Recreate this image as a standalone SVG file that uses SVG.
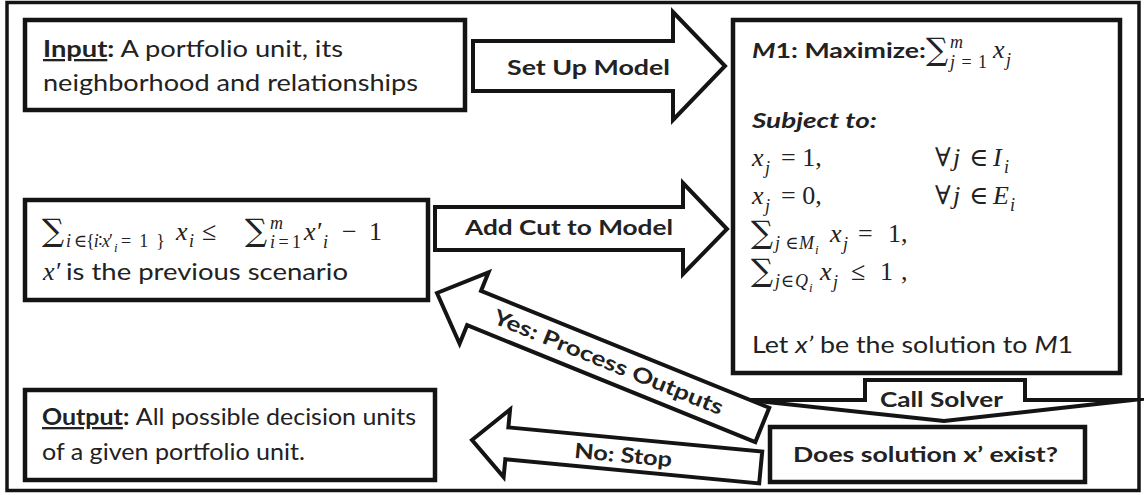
<svg xmlns="http://www.w3.org/2000/svg" width="1144" height="495" viewBox="0 0 1144 495">
<style>
.box{fill:#fff;stroke:#141414;stroke-width:4.5}
.arr{fill:#fff;stroke:#141414;stroke-width:4;stroke-linejoin:miter;stroke-miterlimit:20}
.t{font-family:Lato,"Open Sans","Liberation Sans",sans-serif;font-size:23px;fill:#222}
.b{font-family:Lato,"Open Sans","Liberation Sans",sans-serif;font-size:21px;font-weight:bold;fill:#222}
.m{font-family:"Liberation Serif","DejaVu Serif",serif;font-size:26px;fill:#222}
.mi{font-style:italic}
.s{font-size:18px}
.ss{font-size:13px}
.sum{font-family:"DejaVu Serif",serif;font-size:31px}
.u{text-decoration:underline}
</style>
<rect width="1144" height="495" fill="#fff"/>
<rect x="7" y="2.5" width="1132" height="488" fill="none" stroke="#141414" stroke-width="3.5"/>

<!-- arrows between the steps -->
<g id="connectors">
  <g id="set-up-model">
    <polygon class="arr" points="473,41 673,41 673,12 725,66 673,120 673,91 473,91"/>
    <text class="b" x="507" y="75" textLength="163" lengthAdjust="spacingAndGlyphs">Set Up Model</text>
  </g>
  <g id="add-cut">
    <polygon class="arr" points="435,207 683,207 683,183 727,229 683,274 683,250 435,250"/>
    <text class="b" x="465" y="235" textLength="208" lengthAdjust="spacingAndGlyphs">Add Cut to Model</text>
  </g>
  <g id="call-solver">
    <polygon class="arr" points="865,380 1025,380 1025,400 1132,400 944,421 748,400 865,400"/>
    <text class="b" x="880" y="407" textLength="123" lengthAdjust="spacingAndGlyphs">Call Solver</text>
  </g>
  <g id="yes-process" transform="translate(437,293) rotate(22.07)">
    <polygon class="arr" points="0,0 40,-38.5 40,-18.5 351,-18.5 351,18.5 40,18.5 40,38.5"/>
    <text class="b" x="185" y="7" text-anchor="middle" textLength="246" lengthAdjust="spacingAndGlyphs">Yes: Process Outputs</text>
  </g>
  <g id="no-stop" transform="translate(472,440) rotate(5.43)">
    <polygon class="arr" points="0,0 35,-34 35,-16 290,-16 290,16 35,16 35,34"/>
    <text class="b" x="152" y="8" text-anchor="middle" textLength="98" lengthAdjust="spacingAndGlyphs">No: Stop</text>
  </g>
</g>

<g id="input">
  <rect class="box" x="25" y="20" width="440" height="90"/>
  <text class="t" x="43" y="57" textLength="300" lengthAdjust="spacingAndGlyphs"><tspan font-weight="bold" class="u">Input</tspan><tspan font-weight="bold">:</tspan> A portfolio unit, its</text>
  <text class="t" x="43" y="91" textLength="375" lengthAdjust="spacingAndGlyphs">neighborhood and relationships</text>
</g>

<g id="model">
  <rect class="box" x="733" y="20" width="387" height="353"/>
  <text class="b" x="752" y="58" textLength="174" lengthAdjust="spacingAndGlyphs"><tspan font-style="italic">M</tspan>1: Maximize:</text>
  <text class="m sum" x="926" y="60">∑</text>
  <text class="m mi s" x="950" y="48">m</text>
  <text class="m s" x="950" y="68" textLength="37" lengthAdjust="spacing"><tspan class="mi">j</tspan>=1</text>
  <text class="m mi" x="993" y="58">x</text>
  <text class="m mi s" x="1006" y="66">j</text>

  <text class="b" x="752" y="128" font-style="italic" textLength="125" lengthAdjust="spacingAndGlyphs">Subject to:</text>

  <text class="m mi" x="752" y="166">x</text>
  <text class="m mi s" x="765" y="174">j</text>
  <text class="m" x="781" y="166">= 1,</text>
  <text class="m" x="935" y="166">∀</text>
  <text class="m mi" x="953" y="166">j</text>
  <text class="m" x="969" y="166">∈</text>
  <text class="m mi" x="993" y="166">I</text>
  <text class="m mi s" x="1004" y="173">i</text>

  <text class="m mi" x="752" y="204">x</text>
  <text class="m mi s" x="765" y="212">j</text>
  <text class="m" x="781" y="204">= 0,</text>
  <text class="m" x="935" y="204">∀</text>
  <text class="m mi" x="953" y="204">j</text>
  <text class="m" x="969" y="204">∈</text>
  <text class="m mi" x="993" y="204">E</text>
  <text class="m mi s" x="1010" y="211">i</text>

  <text class="m sum" x="751" y="243">∑</text>
  <text class="m s" x="775" y="249" textLength="39" lengthAdjust="spacing"><tspan class="mi">j</tspan> ∈<tspan class="mi">M</tspan></text>
  <text class="m mi ss" x="815" y="254">i</text>
  <text class="m mi" x="830" y="242">x</text>
  <text class="m mi s" x="843" y="250">j</text>
  <text class="m" x="858" y="242">=</text>
  <text class="m" x="888" y="242">1,</text>

  <text class="m sum" x="751" y="281">∑</text>
  <text class="m s" x="775" y="287" textLength="33" lengthAdjust="spacing"><tspan class="mi">j</tspan>∈<tspan class="mi">Q</tspan></text>
  <text class="m mi ss" x="809" y="292">i</text>
  <text class="m mi" x="820" y="280">x</text>
  <text class="m mi s" x="833" y="288">j</text>
  <text class="m" x="851" y="280">≤</text>
  <text class="m" x="880" y="280">1</text>
  <text class="m" x="901" y="280">,</text>

  <text class="t" x="752" y="353" textLength="321" lengthAdjust="spacingAndGlyphs">Let <tspan font-style="italic">x’</tspan> be the solution to <tspan font-style="italic">M</tspan>1</text>
</g>

<g id="cut">
  <rect class="box" x="25" y="200" width="403" height="100"/>
  <text class="m sum" x="42" y="241">∑</text>
  <text class="m s" x="66" y="247" textLength="47" lengthAdjust="spacing"><tspan class="mi">i</tspan> ∈{<tspan class="mi">i</tspan>∶<tspan class="mi">x</tspan>′</text>
  <text class="m mi ss" x="114" y="252">i</text>
  <text class="m s" x="121" y="247" textLength="44" lengthAdjust="spacing">=1}</text>
  <text class="m mi" x="176" y="240">x</text>
  <text class="m mi s" x="189" y="247">i</text>
  <text class="m" x="202" y="240">≤</text>
  <text class="m sum" x="245" y="241">∑</text>
  <text class="m mi s" x="270" y="229">m</text>
  <text class="m s" x="270" y="248" textLength="31" lengthAdjust="spacing"><tspan class="mi">i</tspan>=1</text>
  <text class="m mi" x="304" y="240">x′</text>
  <text class="m mi s" x="323" y="248">i</text>
  <text class="m" x="342" y="240">−</text>
  <text class="m" x="369" y="240">1</text>
  <text class="m mi" x="43" y="280">x′</text>
  <text class="t" x="66" y="280" textLength="282" lengthAdjust="spacingAndGlyphs">is the previous scenario</text>
</g>

<g id="output">
  <rect class="box" x="25" y="390" width="410" height="90"/>
  <text class="t" x="42" y="425" textLength="374" lengthAdjust="spacingAndGlyphs"><tspan font-weight="bold" class="u">Output</tspan><tspan font-weight="bold">:</tspan><tspan dx="6">All possible decision units</tspan></text>
  <text class="t" x="42" y="460" textLength="263" lengthAdjust="spacingAndGlyphs">of a given portfolio unit.</text>
</g>

<g id="solution-check">
  <rect class="box" x="770" y="427" width="315" height="55"/>
  <text class="b" x="793" y="462" textLength="265" lengthAdjust="spacingAndGlyphs">Does solution x’ exist?</text>
</g>
</svg>
